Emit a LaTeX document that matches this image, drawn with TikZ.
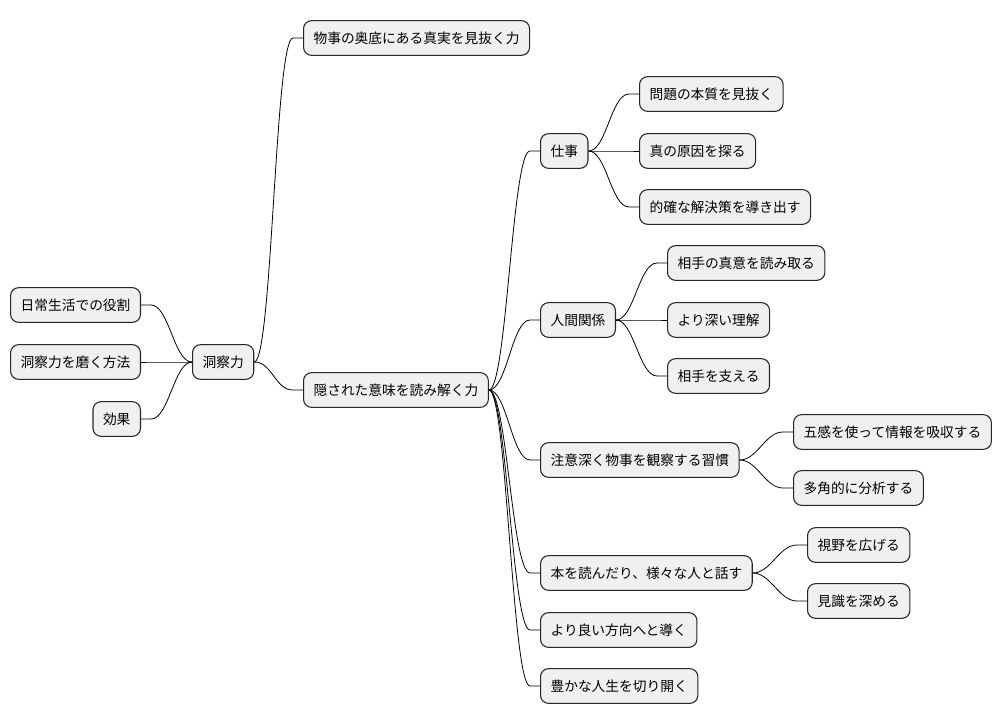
\documentclass[tikz,border=0pt]{standalone}
\usepackage{fontspec}
\setmainfont{Noto Sans CJK JP}
\begin{document}
\begin{tikzpicture}[x=0.75pt,y=-0.75pt,
  box/.style={draw=black!85,fill=black!6,rounded corners=6pt,line width=0.8pt,minimum height=26pt,inner xsep=7.5pt,font=\fontsize{10.3pt}{12pt}\selectfont},
  edge/.style={line width=0.6pt,black}]
\useasboundingbox (0,0) rectangle (1006,724);
\node[box,anchor=west] (root) at (192,362) {洞察力};
\node[box,anchor=east] (l1) at (141,305) {日常生活での役割};
\node[box,anchor=east] (l2) at (141,362) {洞察力を磨く方法};
\node[box,anchor=east] (l3) at (141,419) {効果};
\node[box,anchor=west] (a) at (303,38) {物事の奥底にある真実を見抜く力};
\node[box,anchor=west] (b) at (303,390) {隠された意味を読み解く力};
\node[box,anchor=west] (b1) at (540,151) {仕事};
\node[box,anchor=west] (b11) at (639,94) {問題の本質を見抜く};
\node[box,anchor=west] (b12) at (639,151) {真の原因を探る};
\node[box,anchor=west] (b13) at (639,207) {的確な解決策を導き出す};
\node[box,anchor=west] (b2) at (540,320) {人間関係};
\node[box,anchor=west] (b21) at (667,263) {相手の真意を読み取る};
\node[box,anchor=west] (b22) at (667,320) {より深い理解};
\node[box,anchor=west] (b23) at (667,376) {相手を支える};
\node[box,anchor=west] (b3) at (540,460) {注意深く物事を観察する習慣};
\node[box,anchor=west] (b31) at (793,432) {五感を使って情報を吸収する};
\node[box,anchor=west] (b32) at (793,488) {多角的に分析する};
\node[box,anchor=west] (b4) at (540,573) {本を読んだり、様々な人と話す};
\node[box,anchor=west] (b41) at (807,545) {視野を広げる};
\node[box,anchor=west] (b42) at (807,601) {見識を深める};
\node[box,anchor=west] (b5) at (540,630) {より良い方向へと導く};
\node[box,anchor=west] (b6) at (540,686) {豊かな人生を切り開く};
\foreach \p/\c in {root/a,root/b,b/b1,b/b2,b/b3,b/b4,b/b5,b/b6,b1/b11,b1/b12,b1/b13,b2/b21,b2/b22,b2/b23,b3/b31,b3/b32,b4/b41,b4/b42}{
  \draw[edge] (\p.east) .. controls +(18,0) and +(-18,0) .. ([xshift=-7.5pt]\c.west) -- (\c.west);
}
\foreach \c in {l1,l2,l3}{
  \draw[edge] (root.west) .. controls +(-18,0) and +(18,0) .. ([xshift=7.5pt]\c.east) -- (\c.east);
}
\end{tikzpicture}
\end{document}
